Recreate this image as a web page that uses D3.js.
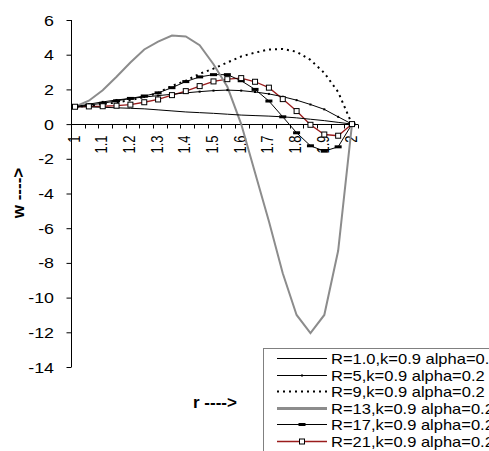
<!DOCTYPE html>
<html>
<head>
<meta charset="utf-8">
<script src="https://cdn.jsdelivr.net/npm/d3@7/dist/d3.min.js"></script>
<style>
  body { margin: 0; background: #fff; }
  text { font-family: Arial, 'Liberation Sans', sans-serif; }
</style>
</head>
<body>
<div id="chart"></div>
<script>
// r values along the category axis
var rValues = [1, 1.05, 1.1, 1.15, 1.2, 1.25, 1.3, 1.35, 1.4, 1.45, 1.5, 1.55, 1.6, 1.65, 1.7, 1.75, 1.8, 1.85, 1.9, 1.95, 2]
var tickLabels = ['1', '1.1', '1.2', '1.3', '1.4', '1.5', '1.6', '1.7', '1.8', '1.9', '2']
var yTicks = [-14, -12, -10, -8, -6, -4, -2, 0, 2, 4, 6]

var w1 = [1.0, 0.99, 0.97, 0.94, 0.91, 0.88, 0.82, 0.76, 0.70, 0.66, 0.62, 0.57, 0.52, 0.49, 0.46, 0.42, 0.36, 0.28, 0.20, 0.10, 0]
var w5 = [1.0, 1.15, 1.28, 1.39, 1.48, 1.56, 1.64, 1.72, 1.8, 1.87, 1.93, 1.96, 1.93, 1.85, 1.74, 1.58, 1.38, 1.13, 0.85, 0.42, 0]
var w9 = [1.0, 1.05, 1.15, 1.25, 1.38, 1.55, 1.8, 2.2, 2.5, 2.9, 3.2, 3.55, 3.9, 4.12, 4.3, 4.33, 4.17, 3.7, 2.95, 1.85, 0]
var w13 = [1.0, 1.35, 1.95, 2.73, 3.55, 4.3, 4.75, 5.1, 5.05, 4.55, 3.45, 2.15, 0.0, -2.8, -5.6, -8.6, -11.0, -12.05, -11.0, -7.3, 0]
var w17 = [1.0, 1.1, 1.2, 1.34, 1.48, 1.62, 1.8, 2.1, 2.45, 2.72, 2.85, 2.85, 2.5, 2.0, 1.33, 0.42, -0.5, -1.25, -1.56, -1.31, 0]
var w21 = [1.0, 1.02, 1.03, 1.06, 1.12, 1.26, 1.42, 1.67, 1.9, 2.19, 2.46, 2.59, 2.65, 2.44, 2.1, 1.44, 0.75, -0.04, -0.6, -0.67, 0]

var seriesNames = ['R=1.0,k=0.9 alpha=0.2', 'R=5,k=0.9 alpha=0.2', 'R=9,k=0.9 alpha=0.2',
  'R=13,k=0.9 alpha=0.2', 'R=17,k=0.9 alpha=0.2', 'R=21,k=0.9 alpha=0.2']

document.addEventListener('DOMContentLoaded', function() {
  var series = [
    {name: seriesNames[0], values: w1, color: '#000', width: 1, dash: null, marker: null},
    {name: seriesNames[1], values: w5, color: '#000', width: 1, dash: null, marker: 'dot'},
    {name: seriesNames[2], values: w9, color: '#000', width: 2, dash: '2,4', marker: null},
    {name: seriesNames[3], values: w13, color: '#8c8c8c', width: 2, dash: null, marker: null, legendWidth: 3},
    {name: seriesNames[4], values: w17, color: '#000', width: 1, dash: null, marker: 'bar'},
    {name: seriesNames[5], values: w21, color: '#9a1c1c', width: 1.3, dash: null, marker: 'square'}
  ]

  var svg = d3.select('#chart')
    .append('svg')
    .attr('width', 489)
    .attr('height', 451)

  // points sit in the middle of each category, ticks between them
  var x = d3.scalePoint().domain(rValues).range([75, 352])
  var band = d3.scaleBand().domain(rValues).range([71, 358])
  var y = d3.scaleLinear().domain([-14, 6]).range([367, 20])

  // y axis
  var yAxis = svg.append('g').attr('transform', 'translate(71.5,0)')
    .call(d3.axisLeft(y).tickValues(yTicks).tickSize(5).tickPadding(0).tickFormat(d3.format('d')))
  yAxis.select('.domain').attr('stroke', '#000').attr('d', 'M0,' + y(-14) + 'V' + y(6))
  yAxis.selectAll('.tick text').remove()
  yTicks.forEach(function(t) {
    svg.append('text')
      .attr('transform', 'translate(54,' + (y(t) + 5.5) + ') scale(1.15,1)')
      .attr('text-anchor', 'end')
      .attr('font-size', 15.5)
      .attr('fill', '#000')
      .text(t)
  })

  // x axis along w = 0
  var y0 = Math.round(y(0)) + 0.5
  svg.append('line')
    .attr('x1', 71).attr('x2', 358)
    .attr('y1', y0).attr('y2', y0)
    .attr('stroke', '#000')
  var tickXs = band.domain().map(function(d) { return Math.round(band(d)) + 0.5 })
  tickXs.push(band.range()[1] + 0.5)
  svg.selectAll('.xtick')
    .data(tickXs)
    .enter()
    .append('line')
    .attr('class', 'xtick')
    .attr('x1', function(d) { return d })
    .attr('x2', function(d) { return d })
    .attr('y1', y0)
    .attr('y2', y0 + 4)
    .attr('stroke', '#000')
  tickLabels.forEach(function(lab, i) {
    svg.append('text')
      .attr('transform', 'translate(' + (x(rValues[i * 2]) + 4.5) + ',' + (y0 + 11) + ') scale(1.2,1) rotate(-90)')
      .attr('text-anchor', 'end')
      .attr('font-size', 13)
      .attr('fill', '#000')
      .text(lab)
  })

  // lines
  var line = d3.line()
    .x(function(d, i) { return x(rValues[i]) })
    .y(function(d) { return y(d) })

  // draw in reverse so the first series sit on top, like the original
  series.slice().reverse().forEach(function(s) {
    svg.append('path')
      .datum(s.values)
      .attr('d', line)
      .attr('fill', 'none')
      .attr('stroke', s.color)
      .attr('stroke-width', s.width)
      .attr('stroke-dasharray', s.dash)
  })

  function drawMarker(g, type, cx, cy) {
    if (type === 'dot') {
      g.append('rect').attr('x', cx - 1).attr('y', cy - 1).attr('width', 2).attr('height', 2).attr('fill', '#000')
    } else if (type === 'bar') {
      g.append('rect').attr('x', cx - 3.5).attr('y', cy - 1.5).attr('width', 7).attr('height', 3).attr('fill', '#000')
    } else if (type === 'square') {
      g.append('rect').attr('x', cx - 2.5).attr('y', cy - 2.5).attr('width', 5).attr('height', 5)
        .attr('fill', '#fff').attr('stroke', '#000').attr('stroke-width', 1)
    }
  }

  var markers = svg.append('g')
  series.forEach(function(s) {
    if (!s.marker) return
    s.values.forEach(function(v, i) {
      drawMarker(markers, s.marker, x(rValues[i]), y(v))
    })
  })

  // axis titles
  svg.append('text')
    .attr('transform', 'translate(24,193) rotate(-90)')
    .attr('text-anchor', 'middle')
    .attr('font-size', 17)
    .attr('font-weight', 'bold')
    .text('w ---->')
  svg.append('text')
    .attr('x', 215)
    .attr('y', 408)
    .attr('text-anchor', 'middle')
    .attr('font-size', 17)
    .attr('font-weight', 'bold')
    .text('r ---->')

  // legend
  var legend = svg.append('g')
  legend.append('rect')
    .attr('x', 263.5).attr('y', 348.5)
    .attr('width', 260).attr('height', 120)
    .attr('fill', '#fff')
    .attr('stroke', '#808080')
  series.forEach(function(s, i) {
    var ly = Math.round(358 + i * 16.5) + 0.5
    legend.append('line')
      .attr('x1', 277).attr('x2', 327)
      .attr('y1', ly).attr('y2', ly)
      .attr('stroke', s.color)
      .attr('stroke-width', s.legendWidth || s.width)
      .attr('stroke-dasharray', s.dash)
    drawMarker(legend, s.marker, 302, ly)
    legend.append('text')
      .attr('transform', 'translate(331,' + (ly + 5) + ') scale(1.18,1)')
      .attr('font-size', 14)
      .attr('fill', '#000')
      .text(s.name)
  })
})
</script>
</body>
</html>
